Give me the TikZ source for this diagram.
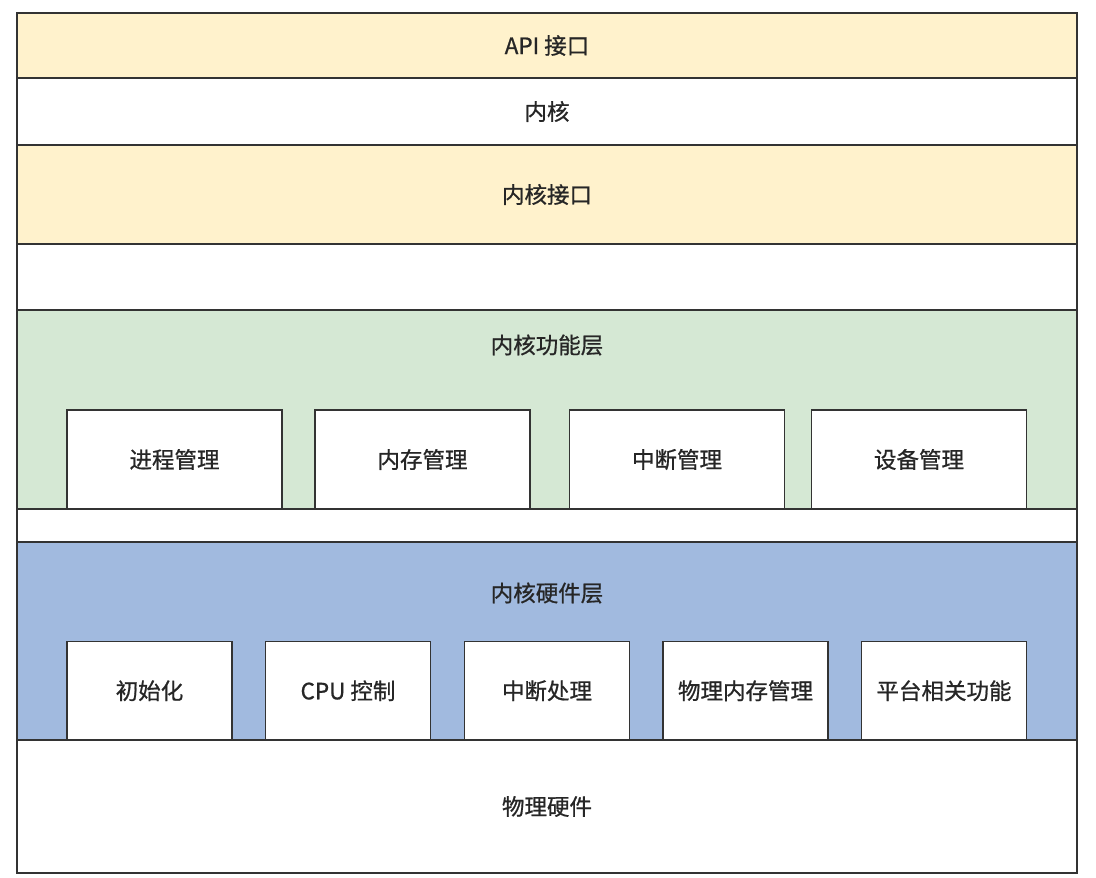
\documentclass[tikz,border=0pt]{standalone}
\usepackage{fontspec}
\setmainfont{Noto Sans CJK SC}[BoldFont={Noto Sans CJK SC},BoldFeatures={FakeBold=0.8}]
\definecolor{ylw}{HTML}{FFF2CC}
\definecolor{grn}{HTML}{D5E8D4}
\definecolor{blu}{HTML}{A1BADF}
\definecolor{edge}{HTML}{333333}
\begin{document}
\begin{tikzpicture}[x=1pt,y=-1pt,
  box/.style={draw=edge,line width=1.4pt,rectangle,inner sep=0pt,text=black!85,font=\fontsize{22.5}{26}\selectfont\bfseries},
  lbl/.style={inner sep=0pt,text=black!85,font=\fontsize{22.5}{26}\selectfont\bfseries}]
\useasboundingbox (0,0) rectangle (1096,878);
% layers
\node[box,fill=ylw,minimum width=1060pt,minimum height=65pt] (api) at (547,45.5) {API 接口};
\node[box,fill=white,minimum width=1060pt,minimum height=67pt] (kernel) at (547,111.5) {内核};
\node[box,fill=ylw,minimum width=1060pt,minimum height=99pt] (kif) at (547,194.5) {内核接口};
\node[box,fill=white,minimum width=1060pt,minimum height=66pt] (gap1) at (547,277) {};
\node[box,fill=grn,minimum width=1060pt,minimum height=199pt] (func) at (547,409.5) {};
\node[lbl] (functitle) at (547,345) {内核功能层};
\node[box,fill=white,minimum width=1060pt,minimum height=33pt] (gap2) at (547,525.5) {};
\node[box,fill=blu,minimum width=1060pt,minimum height=198pt] (hw) at (547,641) {};
\node[lbl] (hwtitle) at (547,593) {内核硬件层};
\node[box,fill=white,minimum width=1060pt,minimum height=133pt] (phys) at (547,806.5) {物理硬件};
% function boxes
\node[box,fill=white,minimum width=215pt,minimum height=99pt] (f1) at (174.5,459.5) {进程管理};
\node[box,fill=white,minimum width=215pt,minimum height=99pt] (f2) at (422.5,459.5) {内存管理};
\node[box,fill=white,minimum width=215pt,minimum height=99pt] (f3) at (677,459.5) {中断管理};
\node[box,fill=white,minimum width=215pt,minimum height=99pt] (f4) at (919,459.5) {设备管理};
% hardware boxes
\node[box,fill=white,minimum width=165pt,minimum height=98.5pt] (h1) at (149.5,690.75) {初始化};
\node[box,fill=white,minimum width=165pt,minimum height=98.5pt] (h2) at (348,690.75) {CPU 控制};
\node[box,fill=white,minimum width=165pt,minimum height=98.5pt] (h3) at (547,690.75) {中断处理};
\node[box,fill=white,minimum width=165pt,minimum height=98.5pt] (h4) at (745.5,690.75) {物理内存管理};
\node[box,fill=white,minimum width=165pt,minimum height=98.5pt] (h5) at (944,690.75) {平台相关功能};
\end{tikzpicture}
\end{document}
